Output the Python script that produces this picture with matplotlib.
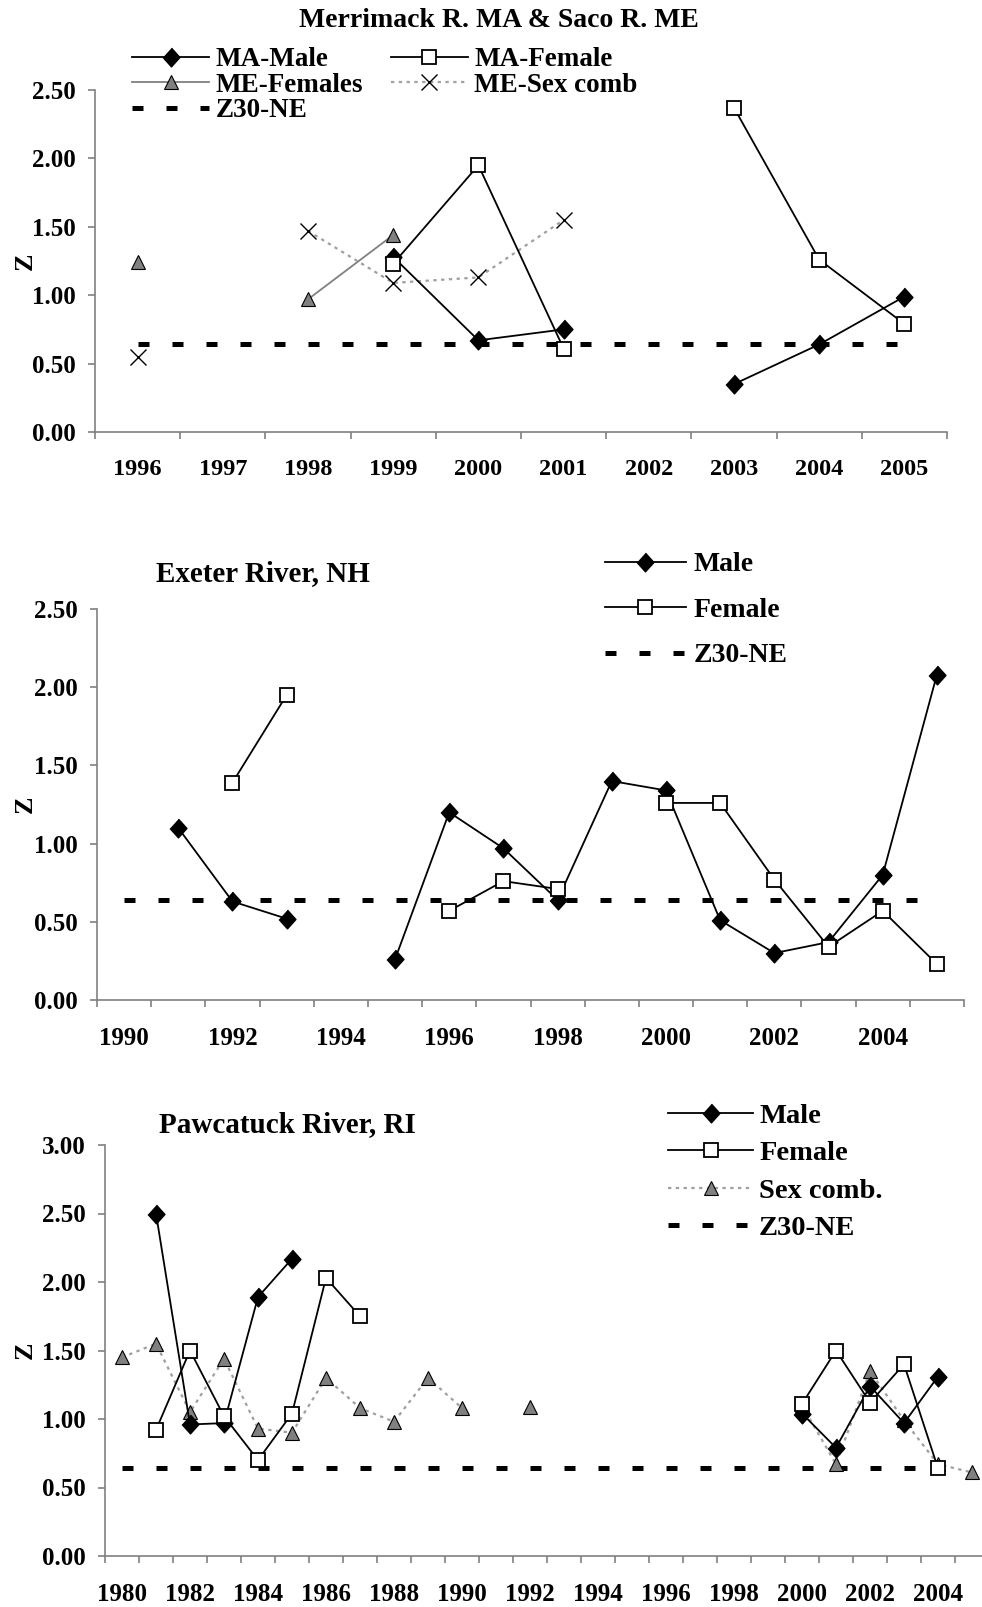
import numpy as np
import matplotlib
matplotlib.use("Agg")
import matplotlib.pyplot as plt


nan = np.nan

# Merrimack R. MA & Saco R. ME
years_ma = ['1996', '1997', '1998', '1999', '2000', '2001', '2002', '2003', '2004', '2005']
ma_male = [nan, nan, nan, 1.28, 0.67, 0.75, nan, 0.35, 0.64, 0.99]
ma_female = [nan, nan, nan, 1.23, 1.95, 0.61, nan, 2.37, 1.26, 0.79]
me_females = [1.24, nan, 0.97, 1.44, nan, nan, nan, nan, nan, nan]
me_sexcomb = [0.55, nan, 1.47, 1.09, 1.13, 1.55, nan, nan, nan, nan]

# Exeter River, NH
years_ex = [str(y) for y in range(1990, 2006)]
ex_male = [nan, 1.10, 0.63, 0.52, nan, 0.26, 1.20, 0.97, 0.64, 1.40, 1.34, 0.51, 0.30, 0.37, 0.80, 2.08]
ex_female = [nan, nan, 1.39, 1.95, nan, nan, 0.57, 0.76, 0.71, nan, 1.26, 1.26, 0.77, 0.34, 0.57, 0.23]

# Pawcatuck River, RI
years_pw = [str(y) for y in range(1980, 2006)]
pw_male = [nan, 2.50, 0.96, 0.97, 1.89, 2.17, nan, nan, nan, nan, nan, nan, nan,
           nan, nan, nan, nan, nan, nan, nan, 1.04, 0.79, 1.24, 0.97, 1.31, nan]
pw_female = [nan, 0.92, 1.50, 1.02, 0.70, 1.04, 2.03, 1.75, nan, nan, nan, nan, nan,
             nan, nan, nan, nan, nan, nan, nan, 1.11, 1.50, 1.12, 1.40, 0.64, nan]
pw_sexcomb = [1.45, 1.55, 1.05, 1.44, 0.93, 0.90, 1.30, 1.08, 0.98, 1.30, 1.08, nan, 1.09,
              nan, nan, nan, nan, nan, nan, nan, 1.10, 0.67, 1.35, 0.99, 0.67, 0.61]

# Z30-NE reference value
z30 = 0.64

W, H = 982, 1607
SERIF = ['Liberation Serif', 'DejaVu Serif']
plt.rcParams['font.family'] = SERIF
plt.rcParams['font.weight'] = 'bold'

AXIS_GRAY = '#808080'
DIAMOND = [(0, 1), (0.9, 0), (0, -1), (-0.9, 0)]

male_style = dict(color='black', lw=1.3, marker=DIAMOND, ms=13.5, mfc='black', mec='black')
female_style = dict(color='black', lw=1.3, marker='s', ms=10.5, mfc='white', mec='black', mew=1.3)
tri_style = dict(marker='^', ms=9.5, mfc='#808080', mec='black', mew=0.8)
z30_style = dict(color='black', lw=3.6, linestyle=(0, (2.2, 4.6)), dash_capstyle='butt')


def make_axes(fig, left, right, top, bottom):
    return fig.add_axes([left / W, 1 - bottom / H, (right - left) / W, (bottom - top) / H])


def style_axes(ax, labels, every, ymax, xfont, left_px, width_px):
    n = len(labels)
    ax.set_xlim(-0.5, n - 0.5)
    ax.set_ylim(0, ymax)
    for s in ['top', 'right']:
        ax.spines[s].set_visible(False)
    for s in ['left', 'bottom']:
        ax.spines[s].set_color(AXIS_GRAY)
        ax.spines[s].set_linewidth(1.2)
    ax.set_xticks(np.arange(n + 1) - 0.5)
    ax.set_xticklabels([])
    ax.set_xticks(np.arange(0, n, every), minor=True)
    ax.set_xticklabels(labels[::every], minor=True, fontsize=xfont, fontweight='bold')
    ax.tick_params(axis='x', which='major', length=5, width=1.2, color=AXIS_GRAY, direction='out')
    ax.tick_params(axis='x', which='minor', length=0, pad=19.5)
    ax.set_yticks(np.arange(0, ymax + 0.01, 0.5))
    ax.set_yticklabels(['%.2f' % v for v in np.arange(0, ymax + 0.01, 0.5)],
                       fontsize=18, fontweight='bold')
    ax.tick_params(axis='y', length=5, width=1.2, color=AXIS_GRAY, pad=9)
    ax.set_ylabel('Z', fontsize=19, fontweight='bold')
    ax.yaxis.set_label_coords((37 - left_px) / width_px, 0.5)


def add_legend(ax, handles, labels, x_px, y_px, size, **kw):
    return ax.legend(handles, labels, loc='upper left',
                     bbox_to_anchor=(x_px / W, 1 - y_px / H),
                     bbox_transform=ax.figure.transFigure, frameon=False,
                     borderpad=0, borderaxespad=0,
                     prop={'family': SERIF, 'weight': 'bold', 'size': size}, **kw)


fig = plt.figure(figsize=(W / 100, H / 100), dpi=100)

# ---- Panel 1 ----
ax1 = make_axes(fig, 95, 947, 90, 432)
x1 = np.arange(len(years_ma))
h_z1, = ax1.plot(x1, [z30] * len(x1), label='Z30-NE', **z30_style)
h_mef, = ax1.plot(x1, me_females, color='#808080', lw=1.3, label='ME-Females', **tri_style)
h_mes, = ax1.plot(x1, me_sexcomb, color='#a0a0a0', lw=1.6, linestyle=(0, (1.5, 2.0)),
                  marker='x', ms=11, mec='black', mew=1.0, label='ME-Sex comb')
h_mam, = ax1.plot(x1, ma_male, label='MA-Male', **male_style)
h_maf, = ax1.plot(x1, ma_female, label='MA-Female', **female_style)
style_axes(ax1, years_ma, 1, 2.5, 17.5, 95, 852)
add_legend(ax1, [h_mam, h_mef, h_z1, h_maf, h_mes],
           ['MA-Male', 'ME-Females', 'Z30-NE', 'MA-Female', 'ME-Sex comb'],
           132, 47, 19.5, ncol=2, handlelength=2.85, handletextpad=0.25,
           columnspacing=1.0, labelspacing=0.02)
fig.text(499 / W, 1 - 20.5 / H, 'Merrimack R. MA & Saco R. ME', ha='center', va='center',
         fontsize=20, fontweight='bold')

# ---- Panel 2 ----
ax2 = make_axes(fig, 97, 964, 609, 1000)
x2 = np.arange(len(years_ex))
h_z2, = ax2.plot(x2, [z30] * len(x2), label='Z30-NE', **z30_style)
h_m2, = ax2.plot(x2, ex_male, label='Male', **male_style)
h_f2, = ax2.plot(x2, ex_female, label='Female', **female_style)
style_axes(ax2, years_ex, 2, 2.5, 18, 97, 867)
add_legend(ax2, [h_m2, h_f2, h_z2], ['Male', 'Female', 'Z30-NE'],
           605, 552, 20, handlelength=2.9, handletextpad=0.3, labelspacing=0.72)
fig.text(156 / W, 1 - 574 / H, 'Exeter River, NH', ha='left', va='center',
         fontsize=21, fontweight='bold')

# ---- Panel 3 ----
ax3 = make_axes(fig, 105, 989, 1145, 1556)
x3 = np.arange(len(years_pw))
z30_pw = [z30] * (len(x3) - 1) + [nan]
h_z3, = ax3.plot(x3, z30_pw, label='Z30-NE', **z30_style)
h_s3, = ax3.plot(x3, pw_sexcomb, color='#a0a0a0', lw=1.6, linestyle=(0, (1.5, 2.0)),
                 label='Sex comb.', **tri_style)
h_m3, = ax3.plot(x3, pw_male, label='Male', **male_style)
h_f3, = ax3.plot(x3, pw_female, label='Female', **female_style)
style_axes(ax3, years_pw, 2, 3.0, 18, 105, 884)
add_legend(ax3, [h_m3, h_f3, h_s3, h_z3], ['Male', 'Female', 'Sex comb.', 'Z30-NE'],
           668, 1103, 20.5, handlelength=3.0, handletextpad=0.2, labelspacing=0.4)
fig.text(159 / W, 1 - 1125 / H, 'Pawcatuck River, RI', ha='left', va='center',
         fontsize=21, fontweight='bold')

fig.savefig('out.png', dpi=100)
